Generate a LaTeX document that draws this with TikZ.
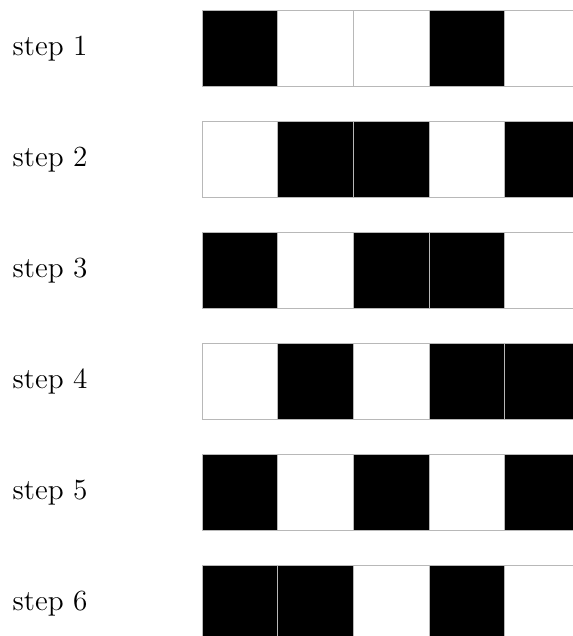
\documentclass[tikz,border=0pt]{standalone}
\begin{document}
\begin{tikzpicture}[x=1cm,y=-1cm,
  cellbox/.style={draw=black!28,line width=0.4pt,minimum width=1cm,minimum height=1cm,inner sep=0pt,outer sep=0pt,anchor=north west},
  on/.style={fill=black},
  off/.style={fill=white},
  lbl/.style={anchor=west,inner sep=0pt,font=\fontsize{11}{13}\selectfont}]
\clip (0,0) rectangle (7.579,8.413);
\useasboundingbox (0,0) rectangle (7.579,8.413);
\foreach \r/\pat in {1/{1,0,0,1,0},2/{0,1,1,0,1},3/{1,0,1,1,0},4/{0,1,0,1,1},5/{1,0,1,0,1},6/{1,1,0,1,0}}{
  \pgfmathsetmacro{\ytop}{(10.7+111*(\r-1))/75.6}
  \node[lbl] (label\r) at (0.16,\ytop+0.5) {step \r};
  \foreach \v [count=\c] in \pat {
    \ifnum\v=1
      \node[cellbox,on] (cell\r-\c) at ({2.676+(\c-1)},\ytop) {};
    \else
      \node[cellbox,off] (cell\r-\c) at ({2.676+(\c-1)},\ytop) {};
    \fi
  }
}
\end{tikzpicture}
\end{document}
